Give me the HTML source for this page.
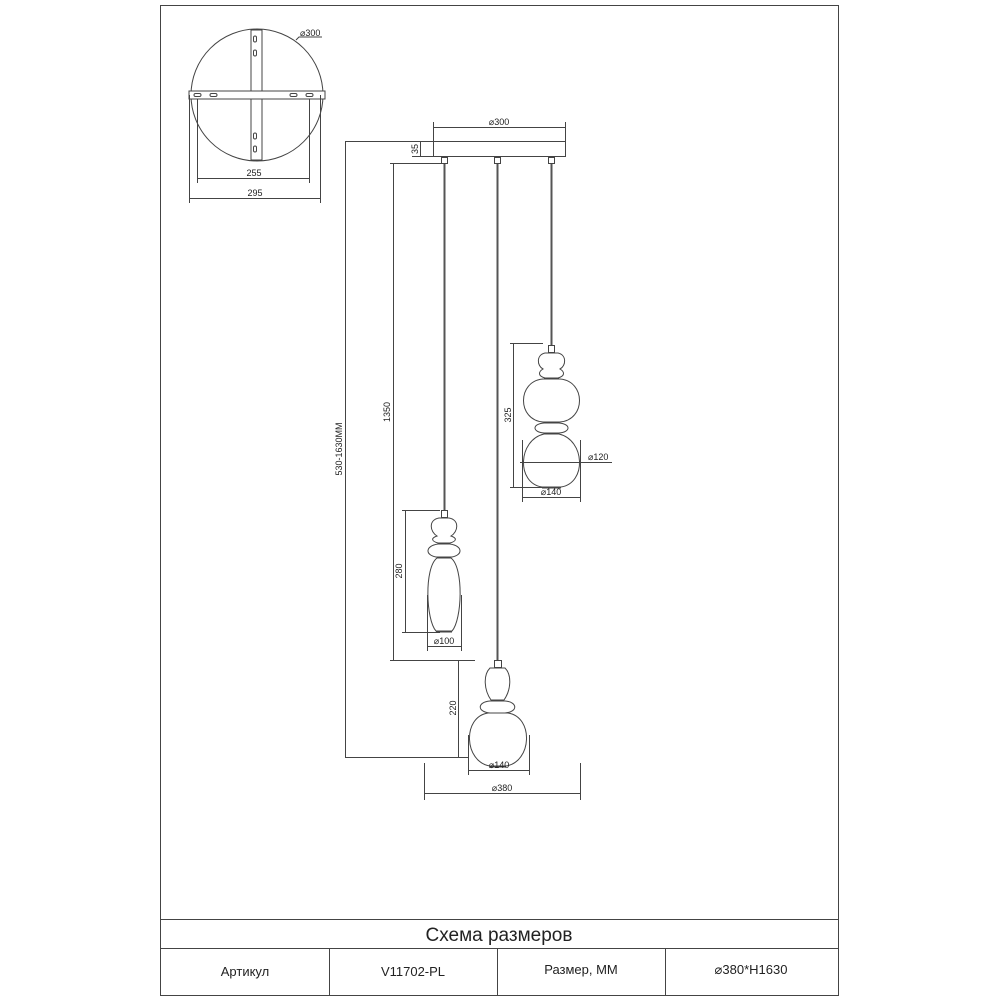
<!DOCTYPE html>
<html><head><meta charset="utf-8"><style>
html,body{margin:0;padding:0;background:#fff}
svg{display:block}
text{font-family:"Liberation Sans","DejaVu Sans",sans-serif;fill:#222}
</style></head><body>
<svg width="1000" height="1000" viewBox="0 0 1000 1000" xmlns="http://www.w3.org/2000/svg">
<g fill="none" stroke="#444" stroke-width="1">
<!-- frame -->
<rect x="160.5" y="5.5" width="678" height="990"/>
<line x1="160" y1="919.5" x2="838" y2="919.5"/>
<line x1="160" y1="948.5" x2="838" y2="948.5"/>
<line x1="329.5" y1="948" x2="329.5" y2="995"/>
<line x1="497.5" y1="948" x2="497.5" y2="995"/>
<line x1="665.5" y1="948" x2="665.5" y2="995"/>

<!-- top view plate -->
<circle cx="257" cy="95" r="66"/>
<rect x="189" y="91" width="136" height="8" fill="#fff"/>
<rect x="251" y="30" width="11" height="61" fill="#fff"/>
<rect x="251" y="99" width="11" height="61" fill="#fff"/>
<rect x="253.5" y="36" width="3" height="6" rx="1.5"/>
<rect x="253.5" y="50" width="3" height="6" rx="1.5"/>
<rect x="253.5" y="133" width="3" height="6" rx="1.5"/>
<rect x="253.5" y="146" width="3" height="6" rx="1.5"/>
<rect x="194" y="93.5" width="7" height="3" rx="1.5"/>
<rect x="210" y="93.5" width="7" height="3" rx="1.5"/>
<rect x="290" y="93.5" width="7" height="3" rx="1.5"/>
<rect x="306" y="93.5" width="7" height="3" rx="1.5"/>
<line x1="197.5" y1="99" x2="197.5" y2="183"/>
<line x1="309.5" y1="99" x2="309.5" y2="183"/>
<line x1="197" y1="178.5" x2="310" y2="178.5"/>
<line x1="189.5" y1="95" x2="189.5" y2="203"/>
<line x1="320.5" y1="95" x2="320.5" y2="203"/>
<line x1="189" y1="198.5" x2="321" y2="198.5"/>
<polyline points="296,40 299,37 322,37"/>

<!-- canopy -->
<line x1="433.5" y1="122" x2="433.5" y2="141"/>
<line x1="565.5" y1="122" x2="565.5" y2="141"/>
<line x1="433" y1="127.5" x2="566" y2="127.5"/>
<rect x="433.5" y="141.5" width="132" height="15"/>
<line x1="345" y1="141.5" x2="433" y2="141.5"/>
<line x1="412" y1="156.5" x2="433" y2="156.5"/>
<line x1="420.5" y1="141" x2="420.5" y2="157"/>
<rect x="441.5" y="157.5" width="6" height="6"/>
<rect x="494.5" y="157.5" width="6" height="6"/>
<rect x="548.5" y="157.5" width="6" height="6"/>
</g>
<g stroke="#555" stroke-width="2">
<line x1="444.5" y1="164" x2="444.5" y2="510"/>
<line x1="497.5" y1="164" x2="497.5" y2="660"/>
<line x1="551.5" y1="164" x2="551.5" y2="345"/>
</g>
<g fill="none" stroke="#444" stroke-width="1">
<!-- main dims -->
<line x1="345.5" y1="141" x2="345.5" y2="757"/>
<line x1="345" y1="757.5" x2="468" y2="757.5"/>
<line x1="393.5" y1="163" x2="393.5" y2="660"/>
<line x1="390" y1="163.5" x2="442" y2="163.5"/>
<line x1="390" y1="660.5" x2="475" y2="660.5"/>

<!-- left pendant -->
<rect x="441.5" y="510.5" width="6" height="7"/>
<path d="M439,518 C428,520 430,532 437,536 C431,538 431,541 438,543 L450,543 C457,541 457,538 451,536 C458,532 460,520 449,518 Z"/>
<path d="M438,544 C425,546 425,555 436,557 L452,557 C463,555 463,546 450,544 Z"/>
<line x1="437" y1="557.5" x2="451" y2="557.5" stroke-width="2"/>
<path d="M437,558 C424,568 426,620 436,631 L452,631 C462,620 464,568 451,558 Z"/>
<line x1="436" y1="631.5" x2="452" y2="631.5" stroke-width="2"/>
<line x1="405.5" y1="510" x2="405.5" y2="632"/>
<line x1="402" y1="510.5" x2="440" y2="510.5"/>
<line x1="402" y1="632.5" x2="440" y2="632.5"/>
<line x1="427.5" y1="595" x2="427.5" y2="651"/>
<line x1="461.5" y1="595" x2="461.5" y2="651"/>
<line x1="427" y1="646.5" x2="462" y2="646.5"/>

<!-- middle pendant -->
<rect x="494.5" y="660.5" width="7" height="7"/>
<path d="M490,668 L505,668 C512,675 511,690 504,700 L491,700 C484,690 483,675 490,668 Z"/>
<line x1="491" y1="700.5" x2="504" y2="700.5" stroke-width="2"/>
<path d="M490,701 C477,702 477,712 490,713 L505,713 C518,712 518,702 505,701 Z"/>
<path d="M488,713 C462,717 464,762 490,766 L506,766 C532,762 534,717 508,713 Z"/>
<line x1="490" y1="766.5" x2="506" y2="766.5" stroke-width="2"/>
<line x1="458.5" y1="660" x2="458.5" y2="757"/>
<line x1="468.5" y1="735" x2="468.5" y2="775"/>
<line x1="529.5" y1="735" x2="529.5" y2="775"/>
<line x1="468" y1="770.5" x2="530" y2="770.5"/>
<line x1="424.5" y1="763" x2="424.5" y2="800"/>
<line x1="580.5" y1="763" x2="580.5" y2="800"/>
<line x1="424" y1="793.5" x2="581" y2="793.5"/>

<!-- right pendant -->
<rect x="548.5" y="345.5" width="6" height="7"/>
<path d="M545,353 C536,355 537,366 543,369 C538,372 538,376 545,378 L558,378 C565,376 565,372 560,369 C566,366 567,355 558,353 Z"/>
<line x1="544" y1="378.5" x2="559" y2="378.5" stroke-width="2"/>
<path d="M543,379 C517,381 517,420 543,422 L560,422 C586,420 586,381 560,379 Z"/>
<path d="M544,423 C532,424 532,432 544,433 L559,433 C571,432 571,424 559,423 Z"/>
<line x1="544" y1="433.5" x2="559" y2="433.5" stroke-width="2"/>
<path d="M544,434 C518,440 516,483 542,487 L561,487 C587,483 585,440 559,434 Z"/>
<line x1="542" y1="487.5" x2="561" y2="487.5" stroke-width="2"/>
<line x1="513.5" y1="343" x2="513.5" y2="488"/>
<line x1="510" y1="343.5" x2="543" y2="343.5"/>
<line x1="510" y1="487.5" x2="542" y2="487.5"/>
<line x1="522.5" y1="440" x2="522.5" y2="502"/>
<line x1="580.5" y1="440" x2="580.5" y2="502"/>
<line x1="522" y1="497.5" x2="581" y2="497.5"/>
<line x1="520" y1="462.5" x2="612" y2="462.5"/>
</g>

<!-- labels -->
<g font-size="9">
<text x="300" y="36">⌀300</text>
<text x="254" y="176" text-anchor="middle">255</text>
<text x="255" y="196" text-anchor="middle">295</text>
<text x="499" y="125" text-anchor="middle">⌀300</text>
<text transform="translate(418,149) rotate(-90)" text-anchor="middle">35</text>
<text transform="translate(342,449) rotate(-90)" text-anchor="middle">530-1630MM</text>
<text transform="translate(390,412) rotate(-90)" text-anchor="middle">1350</text>
<text transform="translate(402,571) rotate(-90)" text-anchor="middle">280</text>
<text transform="translate(456,708) rotate(-90)" text-anchor="middle">220</text>
<text transform="translate(511,415) rotate(-90)" text-anchor="middle">325</text>
<text x="444" y="644" text-anchor="middle">⌀100</text>
<text x="499" y="768" text-anchor="middle">⌀140</text>
<text x="502" y="791" text-anchor="middle">⌀380</text>
<text x="551" y="495" text-anchor="middle">⌀140</text>
<text x="588" y="460">⌀120</text>
</g>
<text x="499" y="941" font-size="19" text-anchor="middle">Схема размеров</text>
<g font-size="13" text-anchor="middle">
<text x="245" y="976">Артикул</text>
<text x="413" y="976">V11702-PL</text>
<text x="581" y="974">Размер, ММ</text>
<text x="751" y="974">⌀380*H1630</text>
</g>
</svg>
</body></html>
